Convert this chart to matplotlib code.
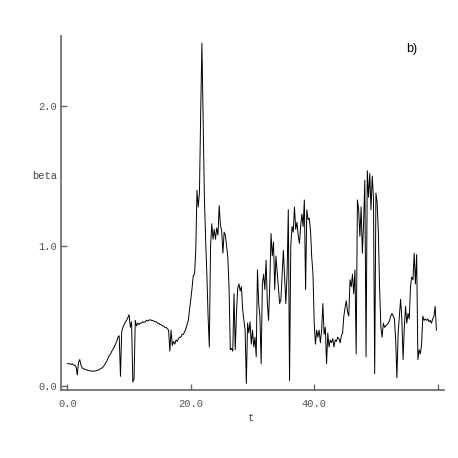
import numpy as np
import matplotlib.pyplot as plt

### DATA ###
# time step of the sampled series
dt = 0.2
# beta values, one row per 2 time units
beta = [
    0.16, 0.16, 0.16, 0.155, 0.16, 0.15, 0.15, 0.14, 0.08, 0.17,     # 0-2
    0.19, 0.15, 0.13, 0.125, 0.12, 0.118, 0.115, 0.112, 0.11, 0.108, # 2-4
    0.107, 0.107, 0.108, 0.11, 0.112, 0.115, 0.12, 0.125, 0.13, 0.138,
    0.15, 0.165, 0.18, 0.20, 0.22, 0.23, 0.25, 0.265, 0.28, 0.30,
    0.32, 0.35, 0.36, 0.07, 0.39, 0.42, 0.44, 0.46, 0.47, 0.49,      # 8-10
    0.51, 0.42, 0.46, 0.03, 0.05, 0.47, 0.43, 0.45, 0.44, 0.45,
    0.45, 0.46, 0.455, 0.46, 0.47, 0.465, 0.47, 0.475, 0.47, 0.47,
    0.465, 0.46, 0.46, 0.45, 0.45, 0.44, 0.44, 0.43, 0.43, 0.42,
    0.42, 0.41, 0.40, 0.25, 0.40, 0.29, 0.32, 0.30, 0.33, 0.32,      # 16-18
    0.34, 0.35, 0.35, 0.37, 0.37, 0.39, 0.41, 0.44, 0.47, 0.55,
    0.62, 0.70, 0.79, 0.80, 0.96, 1.40, 1.28, 1.38, 1.95, 2.45,      # 20-22
    1.90, 1.35, 1.05, 0.80, 0.50, 0.28, 1.00, 1.16, 1.05, 1.12,
    1.05, 1.13, 1.08, 1.29, 1.15, 1.11, 0.95, 1.10, 1.08, 1.00,
    0.92, 0.70, 0.26, 0.27, 0.25, 0.66, 0.26, 0.52, 0.70, 0.73,      # 26-28
    0.68, 0.71, 0.55, 0.47, 0.40, 0.02, 0.45, 0.38, 0.46, 0.30,
    0.40, 0.28, 0.35, 0.21, 0.83, 0.59, 0.50, 0.16, 0.73, 0.80,
    0.69, 0.90, 0.60, 0.47, 0.73, 1.09, 0.93, 1.03, 0.69, 0.93,
    0.81, 0.70, 0.59, 0.62, 0.80, 0.97, 0.78, 0.59, 0.80, 1.26,
    0.04, 1.00, 1.14, 1.10, 1.28, 1.12, 1.17, 1.08, 1.02, 1.14,      # 36-38
    1.23, 1.14, 1.33, 0.69, 1.26, 1.19, 1.20, 1.11, 0.92, 0.80,
    0.45, 0.30, 0.40, 0.35, 0.40, 0.31, 0.40, 0.59, 0.37, 0.42,      # 40-42
    0.16, 0.38, 0.28, 0.33, 0.31, 0.34, 0.28, 0.33, 0.32, 0.35,
    0.34, 0.31, 0.36, 0.38, 0.50, 0.56, 0.61, 0.53, 0.50, 0.76,
    0.71, 0.80, 0.66, 0.83, 0.23, 1.33, 1.26, 1.07, 1.28, 0.95,      # 46-48
    1.16, 1.47, 0.21, 1.54, 1.35, 1.52, 1.26, 1.50, 1.35, 0.09,
    1.38, 1.31, 1.09, 0.69, 0.42, 0.35, 0.45, 0.42, 0.43, 0.44,      # 50-52
    0.45, 0.47, 0.50, 0.52, 0.50, 0.48, 0.33, 0.06, 0.38, 0.50,
    0.62, 0.48, 0.19, 0.42, 0.57, 0.45, 0.52, 0.48, 0.71, 0.78,
    0.76, 0.95, 0.73, 0.94, 0.19, 0.26, 0.23, 0.30, 0.50, 0.47,      # 56-58
    0.48, 0.47, 0.48, 0.46, 0.47, 0.45, 0.48, 0.50, 0.57, 0.40,
]
t = np.arange(len(beta)) * dt

xticks = [0, 20, 40, 60]
xtick_labels = ['0.0', '20.0', '40.0', '']
yticks = [0, 1, 2]
ytick_labels = ['0.0', '1.0', '2.0']

### PLOT ###
axis_col = '#666666'
mono = 'Liberation Mono'

fig = plt.figure(figsize=(4.58, 4.58), dpi=100)
ax = fig.add_axes([0.133, 0.148, 0.836, 0.773])

ax.plot(t, beta, color='black', lw=0.7)

ax.set_xlim(-1.05, 61.0)
ax.set_ylim(-0.029, 2.5)

ax.spines['top'].set_visible(False)
ax.spines['right'].set_visible(False)
for s in ['left', 'bottom']:
    ax.spines[s].set_color(axis_col)
    ax.spines[s].set_linewidth(1.2)

ax.set_xticks(xticks)
ax.set_xticklabels(xtick_labels)
ax.set_yticks(yticks)
ax.set_yticklabels(ytick_labels)
ax.tick_params(direction='in', length=4, width=1, color=axis_col,
               labelcolor='#555555', labelsize=7.5)
ax.tick_params(axis='x', pad=6)
ax.tick_params(axis='y', pad=3)
for lab in ax.get_xticklabels() + ax.get_yticklabels():
    lab.set_family(mono)

ax.set_ylabel('beta', rotation=0, family=mono, fontsize=7.5, color='#444444',
              ha='center', va='center')
ax.yaxis.set_label_coords(-0.043, 0.605)
ax.set_xlabel('t', family=mono, fontsize=7.5, color='#444444',
              ha='center', va='center')
ax.xaxis.set_label_coords(0.496, -0.079)

ax.text(0.916, 0.963, 'b)', transform=ax.transAxes, family='Liberation Sans',
        fontsize=9, ha='center', va='center')

fig.savefig('out.png', dpi=100)
